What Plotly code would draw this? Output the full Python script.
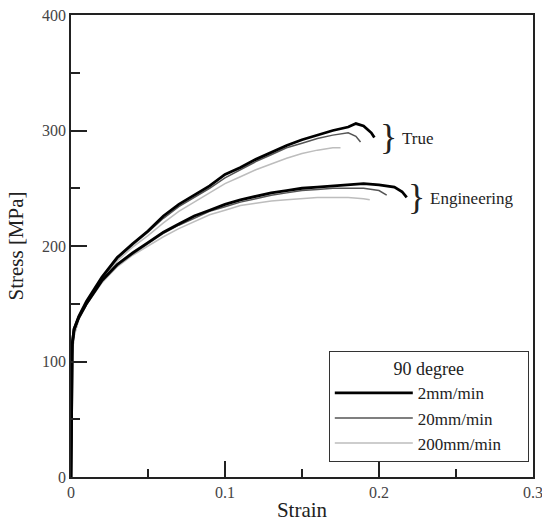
import plotly.graph_objects as go

# Strain values per curve and stress values [MPa]
strain_2 = [0, 0.0008, 0.002, 0.005, 0.01, 0.015, 0.02, 0.03, 0.04, 0.05, 0.06, 0.07, 0.08, 0.09, 0.10,
            0.11, 0.12, 0.13, 0.14, 0.15, 0.16, 0.17, 0.18, 0.19, 0.20, 0.21, 0.215, 0.218]
eng_2 = [0, 115, 128, 138, 150, 160, 170, 184, 194, 203, 212, 219, 226, 231, 236,
         240, 243, 246, 248, 250, 251, 252, 253, 254, 253, 251, 247, 242]
strain_t2 = [0, 0.0008, 0.002, 0.005, 0.01, 0.015, 0.02, 0.03, 0.04, 0.05, 0.06, 0.07, 0.08, 0.09, 0.10,
             0.11, 0.12, 0.13, 0.14, 0.15, 0.16, 0.17, 0.18, 0.185, 0.19, 0.195, 0.197]
true_2 = [0, 115, 128, 139, 152, 163, 173, 190, 202, 213, 226, 236, 244, 252, 262,
          268, 275, 281, 287, 292, 296, 300, 303, 306, 304, 298, 294]

strain_20 = [0, 0.0008, 0.002, 0.005, 0.01, 0.015, 0.02, 0.03, 0.04, 0.05, 0.06, 0.07, 0.08, 0.09, 0.10,
             0.11, 0.12, 0.13, 0.14, 0.15, 0.16, 0.17, 0.18, 0.19, 0.20, 0.205]
eng_20 = [0, 112, 126, 137, 149, 159, 169, 183, 193, 202, 211, 218, 224, 230, 234,
          238, 241, 244, 246, 248, 249, 250, 250, 250, 248, 244]
strain_t20 = [0, 0.0008, 0.002, 0.005, 0.01, 0.015, 0.02, 0.03, 0.04, 0.05, 0.06, 0.07, 0.08, 0.09, 0.10,
              0.11, 0.12, 0.13, 0.14, 0.15, 0.16, 0.17, 0.18, 0.185, 0.188]
true_20 = [0, 112, 126, 138, 151, 162, 172, 189, 201, 212, 224, 234, 242, 250, 259,
           266, 273, 279, 285, 289, 293, 296, 298, 295, 290]

strain_200 = [0, 0.0008, 0.002, 0.005, 0.01, 0.015, 0.02, 0.03, 0.04, 0.05, 0.06, 0.07, 0.08, 0.09, 0.10,
              0.11, 0.12, 0.13, 0.14, 0.15, 0.16, 0.17, 0.18, 0.19, 0.194]
eng_200 = [0, 105, 122, 136, 149, 159, 168, 182, 192, 200, 208, 215, 221, 227, 231,
           235, 237, 239, 240, 241, 242, 242, 242, 241, 240]
strain_t200 = [0, 0.0008, 0.002, 0.005, 0.01, 0.015, 0.02, 0.03, 0.04, 0.05, 0.06, 0.07, 0.08, 0.09, 0.10,
               0.11, 0.12, 0.13, 0.14, 0.15, 0.16, 0.17, 0.175]
true_200 = [0, 105, 122, 137, 150, 161, 171, 187, 199, 209, 220, 230, 238, 246, 254,
            260, 266, 271, 276, 280, 283, 285, 285]

series_names = ["2mm/min", "20mm/min", "200mm/min"]

FONT = "Liberation Serif, Times New Roman, serif"
C2, C20, C200 = "#000000", "#555555", "#bdbdbd"
PAD = "\u00a0" * 5

fig = go.Figure()
fig.add_trace(go.Scatter(x=strain_200, y=eng_200, mode="lines", line=dict(color=C200, width=1.5),
                         name=series_names[2] + PAD, legendrank=3))
fig.add_trace(go.Scatter(x=strain_t200, y=true_200, mode="lines", line=dict(color=C200, width=1.5),
                         showlegend=False))
fig.add_trace(go.Scatter(x=strain_20, y=eng_20, mode="lines", line=dict(color=C20, width=1.5),
                         name=series_names[1], legendrank=2))
fig.add_trace(go.Scatter(x=strain_t20, y=true_20, mode="lines", line=dict(color=C20, width=1.5),
                         showlegend=False))
fig.add_trace(go.Scatter(x=strain_2, y=eng_2, mode="lines", line=dict(color=C2, width=2.8),
                         name=series_names[0], legendrank=1))
fig.add_trace(go.Scatter(x=strain_t2, y=true_2, mode="lines", line=dict(color=C2, width=2.8),
                         showlegend=False))

fig.add_annotation(x=0.206, y=294, text="}", showarrow=False, xanchor="center", yanchor="middle",
                   font=dict(family=FONT, size=36, color="#222"))
fig.add_annotation(x=0.2135, y=293, text="True", showarrow=False, xanchor="left", yanchor="middle",
                   font=dict(family=FONT, size=17, color="#222"))
fig.add_annotation(x=0.2245, y=242, text="}", showarrow=False, xanchor="center", yanchor="middle",
                   font=dict(family=FONT, size=36, color="#222"))
fig.add_annotation(x=0.232, y=241, text="Engineering", showarrow=False, xanchor="left", yanchor="middle",
                   font=dict(family=FONT, size=17, color="#222"))

axis_common = dict(showgrid=False, zeroline=False, showline=True, linecolor="#222", linewidth=1.5,
                   mirror=True, ticks="inside", ticklen=16, tickwidth=1.5, tickcolor="#222",
                   ticklabeloverflow="allow",
                   tickfont=dict(family=FONT, size=16, color="#444"))
fig.update_xaxes(range=[0, 0.3], tickvals=[0, 0.1, 0.2, 0.3], ticktext=["0", "0.1", "0.2", "0.3"],
                 minor=dict(tickvals=[0.05, 0.15, 0.25], ticks="inside", ticklen=8, tickwidth=1.5,
                            tickcolor="#222"),
                 title=dict(text="Strain", font=dict(family=FONT, size=21, color="#222"), standoff=2),
                 **axis_common)
fig.update_yaxes(range=[0, 400], tickvals=[0, 100, 200, 300, 400],
                 minor=dict(tickvals=[50, 150, 250, 350], ticks="inside", ticklen=9, tickwidth=1.5,
                            tickcolor="#222"),
                 title=dict(text="Stress [MPa]", font=dict(family=FONT, size=21, color="#222"), standoff=13),
                 **axis_common)

fig.update_layout(
    width=542, height=527,
    margin=dict(l=71, r=9, t=15, b=50, autoexpand=False),
    plot_bgcolor="white", paper_bgcolor="white",
    showlegend=True,
    legend=dict(x=0.558, y=0.273, xanchor="left", yanchor="top",
                bordercolor="#333", borderwidth=1, bgcolor="white",
                title=dict(text="90 degree", side="top center", font=dict(family=FONT, size=18, color="#222")),
                font=dict(family=FONT, size=17, color="#222"),
                itemwidth=78, tracegroupgap=0),
)

# remove the default page margin so the 542x527 figure fills the window exactly
fig.write_html("out.html", config={"displayModeBar": False},
               post_script="document.body.style.margin='0';document.body.style.overflow='hidden';")
